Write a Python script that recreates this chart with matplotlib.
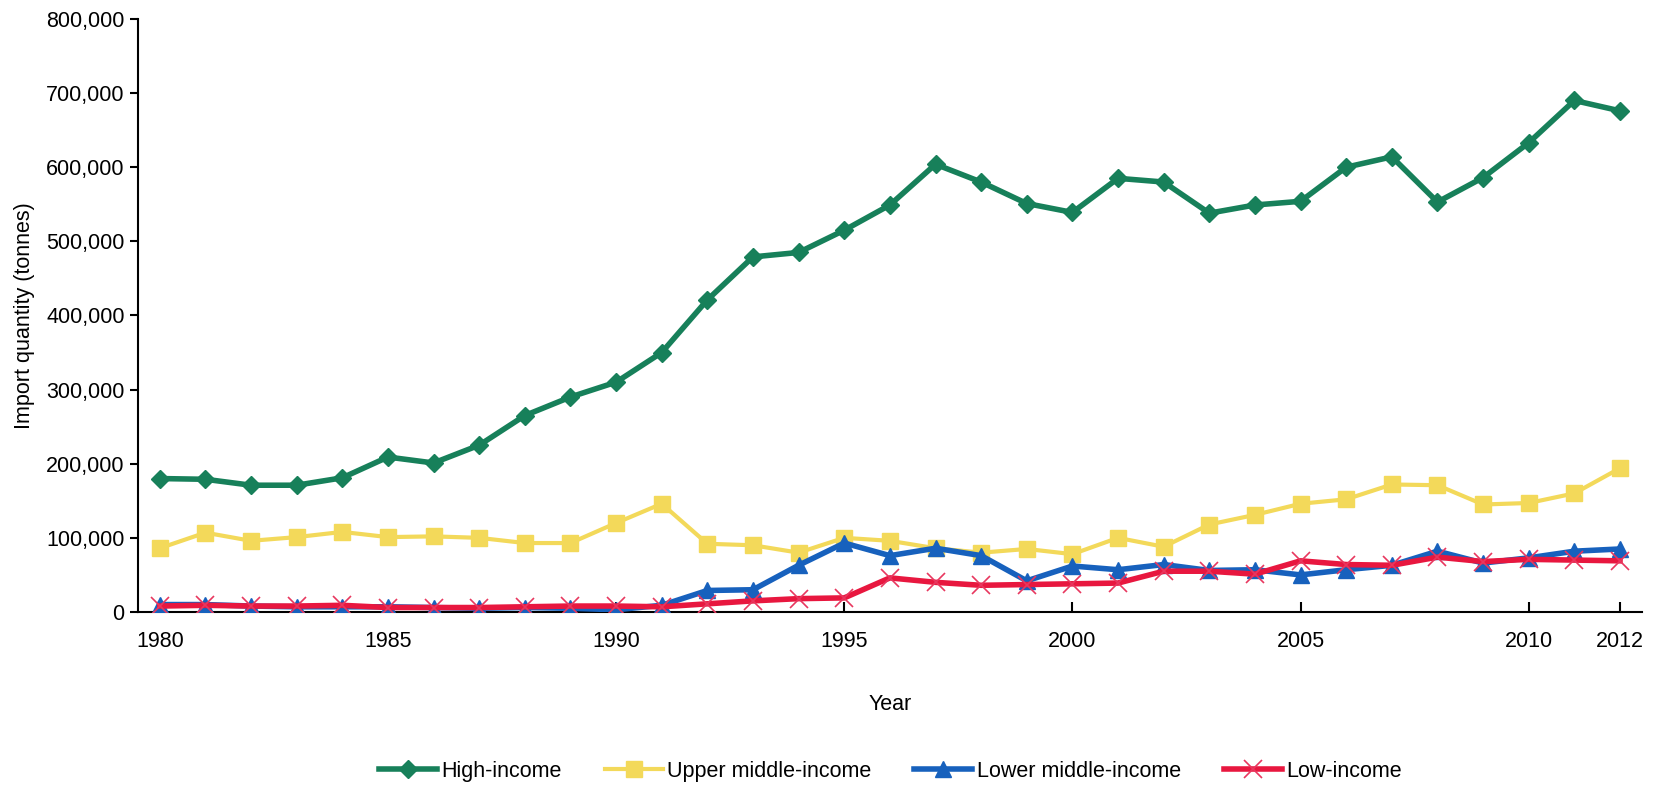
import numpy as np
import matplotlib
matplotlib.use('Agg')
import matplotlib.pyplot as plt
from matplotlib.ticker import FuncFormatter

plt.rcParams['font.family'] = ['Liberation Sans Narrow', 'Liberation Sans', 'DejaVu Sans']

# data
years = list(range(1980, 2013))
high_income = [180000, 179000, 171000, 171000, 181000, 209000, 201000, 225000, 265000, 290000,
               310000, 350000, 421000, 479000, 485000, 515000, 549000, 604000, 580000, 551000,
               539000, 585000, 580000, 538000, 549000, 554000, 600000, 614000, 553000, 586000,
               633000, 690000, 676000]
upper_middle = [86000, 107000, 96000, 101000, 108000, 101000, 102000, 100000, 93000, 93000,
                120000, 146000, 92000, 90000, 80000, 100000, 96000, 86000, 80000, 85000,
                78000, 100000, 88000, 118000, 131000, 146000, 152000, 172000, 171000, 145000,
                147000, 160000, 194000]
lower_middle = [10000, 10000, 8000, 7000, 7000, 7000, 6000, 5000, 6000, 5000,
                3000, 9000, 29000, 30000, 63000, 93000, 76000, 86000, 76000, 42000,
                62000, 57000, 64000, 56000, 57000, 50000, 57000, 63000, 82000, 66000,
                73000, 82000, 85000]
low_income = [8000, 9000, 8000, 8000, 9000, 6000, 6000, 6000, 7000, 8000,
              8000, 7000, 11000, 15000, 18000, 19000, 46000, 40000, 36000, 37000,
              38000, 39000, 55000, 55000, 51000, 69000, 64000, 63000, 74000, 68000,
              71000, 70000, 69000]
x_ticks = [1980, 1985, 1990, 1995, 2000, 2005, 2010, 2012]

fig = plt.figure(figsize=(16.61, 7.86), dpi=100)
ax = fig.add_axes([0.083, 0.2214, 0.9055, 0.7545])

ax.plot(years, high_income, color='#17805a', lw=4, marker='D', ms=9, label='High-income', zorder=3)
ax.plot(years, upper_middle, color='#f3d95a', lw=3, marker='s', ms=12, label='Upper middle-income', zorder=2)
ax.plot(years, lower_middle, color='#1761bd', lw=4, marker='^', ms=11, label='Lower middle-income', zorder=4)
ax.plot(years, low_income, color='#e8173f', lw=4, marker='x', ms=13, mew=1.2, mec='#e8375f',
        label='Low-income', zorder=5)

ax.set_xlim(1979.52, 2012.48)
ax.set_ylim(0, 800000)
ax.set_xticks(x_ticks)
ax.set_yticks(np.arange(0, 800001, 100000))
ax.yaxis.set_major_formatter(FuncFormatter(lambda v, p: f'{int(v):,}'))
ax.tick_params(axis='x', direction='in', length=7, width=1.5, labelsize=15.5, pad=14)
ax.tick_params(axis='y', direction='out', length=6, width=1.5, labelsize=15.5)
for s in ['top', 'right']:
    ax.spines[s].set_visible(False)
for s in ['left', 'bottom']:
    ax.spines[s].set_linewidth(1.5)

ax.set_xlabel('Year', fontsize=15.5, labelpad=30)
ax.set_ylabel('Import quantity (tonnes)', fontsize=15.5, labelpad=8)

fig.legend(loc='center', bbox_to_anchor=(0.536, 0.019), ncol=4, frameon=False, fontsize=15.5,
           handlelength=2.7, columnspacing=2.0, handletextpad=0.2)

fig.savefig('out.png', dpi=100)
